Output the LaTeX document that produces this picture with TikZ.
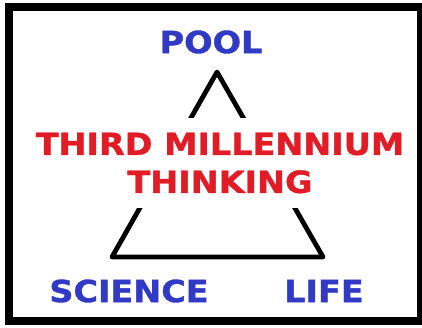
\documentclass[tikz,border=0pt]{standalone}
\usepackage{fontspec}
\setmainfont{DejaVu Sans}
\newfontfamily\widefont[FakeStretch=1.1,FakeBold=1.2]{DejaVu Sans Bold}
\usetikzlibrary{positioning}
\definecolor{poolblue}{RGB}{48,58,196}
\definecolor{thinkred}{RGB}{226,28,38}

\begin{document}
\begin{tikzpicture}[x=0.5pt,y=-0.5pt,
  word/.style={font=\widefont\fontsize{15.2}{19}\selectfont,inner sep=0pt},
  corner/.style={word,text=poolblue}]
  \useasboundingbox (0,0) rectangle (422,327);
  \draw[line width=4pt] (9,7) rectangle (421,321);
  % triangle
  \coordinate (apex) at (217,72);
  \coordinate (bl) at (112,257);
  \coordinate (br) at (323,257);
  \draw[line width=2.4pt,line join=round] (apex) -- (bl) -- (br) -- cycle;
  \node[word,text=thinkred,align=center,fill=white,minimum height=45pt] (title) at (220,163) {THIRD MILLENNIUM\\THINKING};
  \node[corner] (pool) at (211,42) {POOL};
  \node[corner] (science) at (129,291) {SCIENCE};
  \node[corner] (life) at (324,291) {LIFE};
\end{tikzpicture}
\end{document}
